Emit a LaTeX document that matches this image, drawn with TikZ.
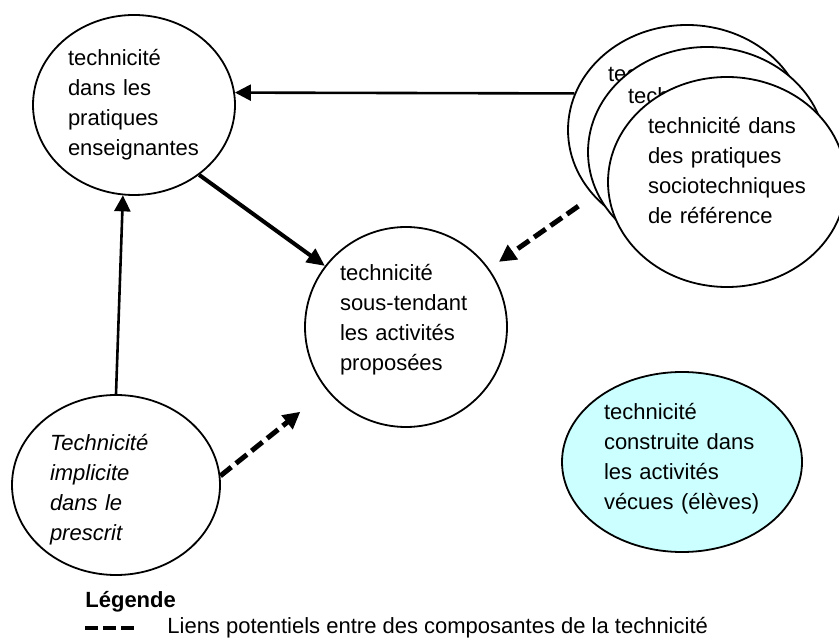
\documentclass[tikz,border=0pt]{standalone}
\usepackage{fontspec}
\setmainfont{Liberation Sans}
\usepackage{xcolor}
\usepackage{tikz}
\usetikzlibrary{shapes.geometric,arrows.meta}
\definecolor{paleblue}{RGB}{204,255,255}

\begin{document}
\begin{tikzpicture}[x=0.5pt,y=-0.5pt,>={Triangle[length=8pt,width=8pt]},font=\fontsize{11}{15}\selectfont,
    state/.style={ellipse,draw,line width=0.9pt,fill=white,inner sep=0pt,align=left,text width=66pt},
    refstate/.style={state,text width=79pt,text depth=57pt,minimum width=119pt,minimum height=105pt},
    link/.style={->,line width=1.3pt},
    heavy link/.style={->,line width=2pt,>={Triangle[length=9pt,width=8pt]}},
    maybe link/.style={->,line width=2.5pt,dash pattern=on 7pt off 3pt,>={Triangle[length=8.5pt,width=8.5pt]}}]

    \clip (0,0) rectangle (839,640);

    % The graph
    \node [state,minimum width=101pt,minimum height=90pt] at (134,105) (ens) {technicité\\dans les\\pratiques\\enseignantes};
    \node [state,minimum width=101pt,minimum height=100pt,text depth=55pt] at (406,327) (act) {technicité\\sous-tendant\\les activités\\proposées};
    \node [state,minimum width=104pt,minimum height=90pt,text depth=43pt,font=\fontsize{11}{15}\selectfont\itshape] at (116,485) (pres) {Technicité\\implicite\\dans le\\prescrit};
    \node [state,minimum width=120pt,minimum height=90pt,text width=78pt,text depth=51pt,fill=paleblue] at (682,462) (eleves) {technicité\\construite dans\\les activités\\vécues (élèves)};

    % stacked reference practices
    \node [refstate] at (687,130) (ref1) {technicité dans};
    \node [refstate] at (707,152) (ref2) {technicité dans};
    \node [refstate] at (727,182) (ref3) {technicité dans\\des pratiques\\sociotechniques\\de référence};

    % Graph edges
    \path
    (ref1.162) edge[link] (ens.7)
    (pres.north) edge[link] (ens.-97)
    (ens.-47) edge[heavy link] (act.143);

    \path
    (ref1) edge[maybe link,shorten <=9pt,shorten >=6pt] (act)
    (pres.5) edge[maybe link,shorten >=17pt] (act);

    % Legend
    \node [anchor=west,inner sep=0pt,font=\fontsize{11}{15}\selectfont\bfseries] at (85,602) (legtitle) {Légende};
    \coordinate (dashA) at (85,628);
    \coordinate (dashB) at (135,628);
    \draw [line width=2pt,dash pattern=on 6.5pt off 2.5pt] (dashA) -- (dashB);
    \node [anchor=west,inner sep=0pt] at (167,628) (legtext) {Liens potentiels entre des composantes de la technicité};

\end{tikzpicture}
\end{document}
